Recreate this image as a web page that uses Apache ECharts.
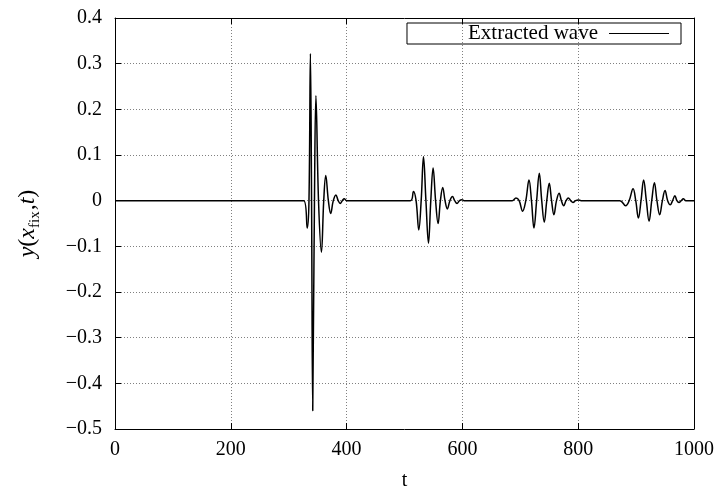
<!DOCTYPE html>
<html>
<head>
<meta charset="utf-8">
<script src="https://cdn.jsdelivr.net/npm/echarts@6/dist/echarts.min.js"></script>
<style>
html,body{margin:0;padding:0;background:#fff;}
#chart{width:717px;height:497px;}
</style>
</head>
<body>
<div id="chart"></div>
<script>
// Extracted wave: time samples (peaks, troughs, zero crossings)
const tValues = [
  0, 326, 332, 335, 337.5, 339.5, 341.5, 344.5, 347, 351.5, 356.5, 360.5, 364, 368.5, 372.5, 377, 381.5, 385.5, 389, 392.5, 396, 400,
  510, 515.5, 520, 524.7, 528.8, 532.8, 537, 541.4, 545.4, 549.4, 553.7, 558, 562, 566, 570, 574, 578.4, 582.8, 586.7, 590.7, 595, 599, 603,
  686, 692.5, 698, 704, 709.5, 715, 719.3, 723.6, 728.2, 732.8, 737, 741.4, 745.7, 750, 754, 758, 762.5, 767, 771, 775, 779, 783, 787, 791, 795.5, 800, 805,
  872, 882, 888, 894.8, 899.4, 904, 908.5, 913, 917.7, 922.4, 927, 931.6, 936, 940.7, 945.4, 950, 954.5, 959, 963, 967, 970.5, 974, 978, 981.6, 986, 1000
];
const yValues = [
  0, 0, -0.06, 0, 0.322, 0, -0.46, 0, 0.23, 0, -0.113, 0, 0.055, 0, -0.028, 0, 0.0125, 0, -0.006, 0, 0.004, 0,
  0, 0.02, 0, -0.064, 0, 0.096, 0, -0.093, 0, 0.0715, 0, -0.05, 0, 0.029, 0, -0.018, 0, 0.009, 0, -0.006, 0, 0.002, 0,
  0, 0.006, 0, -0.023, 0, 0.045, 0, -0.06, 0, 0.06, 0, -0.047, 0, 0.038, 0, -0.031, 0, 0.016, 0, -0.011, 0, 0.006, 0, -0.004, 0, 0.0015, 0,
  0, -0.011, 0, 0.026, 0, -0.038, 0, 0.045, 0, -0.045, 0, 0.039, 0, -0.031, 0, 0.022, 0, -0.009, 0, 0.011, 0, -0.004, 0, 0.004, 0, 0
];
const seriesName = 'Extracted wave';
const xTicks = [0, 200, 400, 600, 800, 1000];
const yTicks = [-0.5, -0.4, -0.3, -0.2, -0.1, 0, 0.1, 0.2, 0.3, 0.4];

const data = tValues.map((t, i) => [t, yValues[i]]);
const FONT = 'Liberation Serif';
const fmtY = v => {
  const s = (Math.round(v * 10) / 10).toString();
  return s.replace('-', '\u2212');
};
const fmtX = v => String(Math.round(v));
const gridLine = {show: true, lineStyle: {color: '#808080', width: 1, type: [1, 2]}};
const axLine = {show: true, onZero: false, lineStyle: {color: '#000', width: 1}};
const tick = {show: true, inside: true, length: 6, lineStyle: {color: '#000', width: 1}};

const chart = echarts.init(document.getElementById('chart'), null, {renderer: 'canvas'});
chart.setOption({
  animation: false,
  backgroundColor: '#fff',
  textStyle: {fontFamily: FONT},
  grid: {left: 115, right: 22, top: 18, bottom: 68},
  legend: {
    show: true,
    data: [{name: seriesName, icon: 'rect'}],
    right: 36, top: 23,
    align: 'right',
    itemWidth: 60, itemHeight: 1.2,
    itemGap: 10,
    borderColor: '#000', borderWidth: 1, borderRadius: 0,
    padding: [0, 12, 0, 61],
    textStyle: {fontFamily: FONT, fontSize: 21, color: '#000', padding: [0, 6, 0, 0]},
    itemStyle: {color: '#000'},
    lineStyle: {width: 0}
  },
  xAxis: [{
    type: 'value', min: 0, max: 1000, interval: 200, position: 'bottom',
    name: 't', nameLocation: 'middle', nameGap: 42,
    nameTextStyle: {fontFamily: FONT, fontSize: 20, color: '#000'},
    axisLine: axLine, axisTick: tick, splitLine: gridLine,
    axisLabel: {fontFamily: FONT, fontSize: 20, color: '#000', margin: 11, formatter: fmtX}
  }, {
    type: 'value', min: 0, max: 1000, interval: 200, position: 'top',
    axisLine: axLine, axisTick: tick, splitLine: {show: false}, axisLabel: {show: false}
  }],
  yAxis: [{
    type: 'value', min: -0.5, max: 0.4, interval: 0.1, position: 'left',
    name: '{i|y}{n|(}{i|x}{s|fix}{n|,}{i|t}{n|)}',
    nameLocation: 'middle', nameGap: 72, nameRotate: 90,
    nameTextStyle: {
      fontFamily: FONT, fontSize: 23, color: '#000',
      rich: {
        i: {fontFamily: FONT, fontStyle: 'italic', fontSize: 24, color: '#000', lineHeight: 30},
        n: {fontFamily: FONT, fontSize: 24, color: '#000', lineHeight: 30},
        s: {fontFamily: FONT, fontSize: 15, color: '#000', verticalAlign: 'bottom', lineHeight: 16, padding: [0, 1, 0, 0]}
      }
    },
    axisLine: axLine, axisTick: tick, splitLine: gridLine,
    axisLabel: {fontFamily: FONT, fontSize: 20, color: '#000', margin: 13, formatter: fmtY}
  }, {
    type: 'value', min: -0.5, max: 0.4, interval: 0.1, position: 'right',
    axisLine: axLine, axisTick: tick, splitLine: {show: false}, axisLabel: {show: false}
  }],
  series: [{
    name: seriesName,
    type: 'line',
    data: data,
    xAxisIndex: 0, yAxisIndex: 0,
    showSymbol: false,
    smooth: 0.4,
    lineStyle: {color: '#000', width: 1.5},
    itemStyle: {color: '#000'}
  }]
});
</script>
</body>
</html>
